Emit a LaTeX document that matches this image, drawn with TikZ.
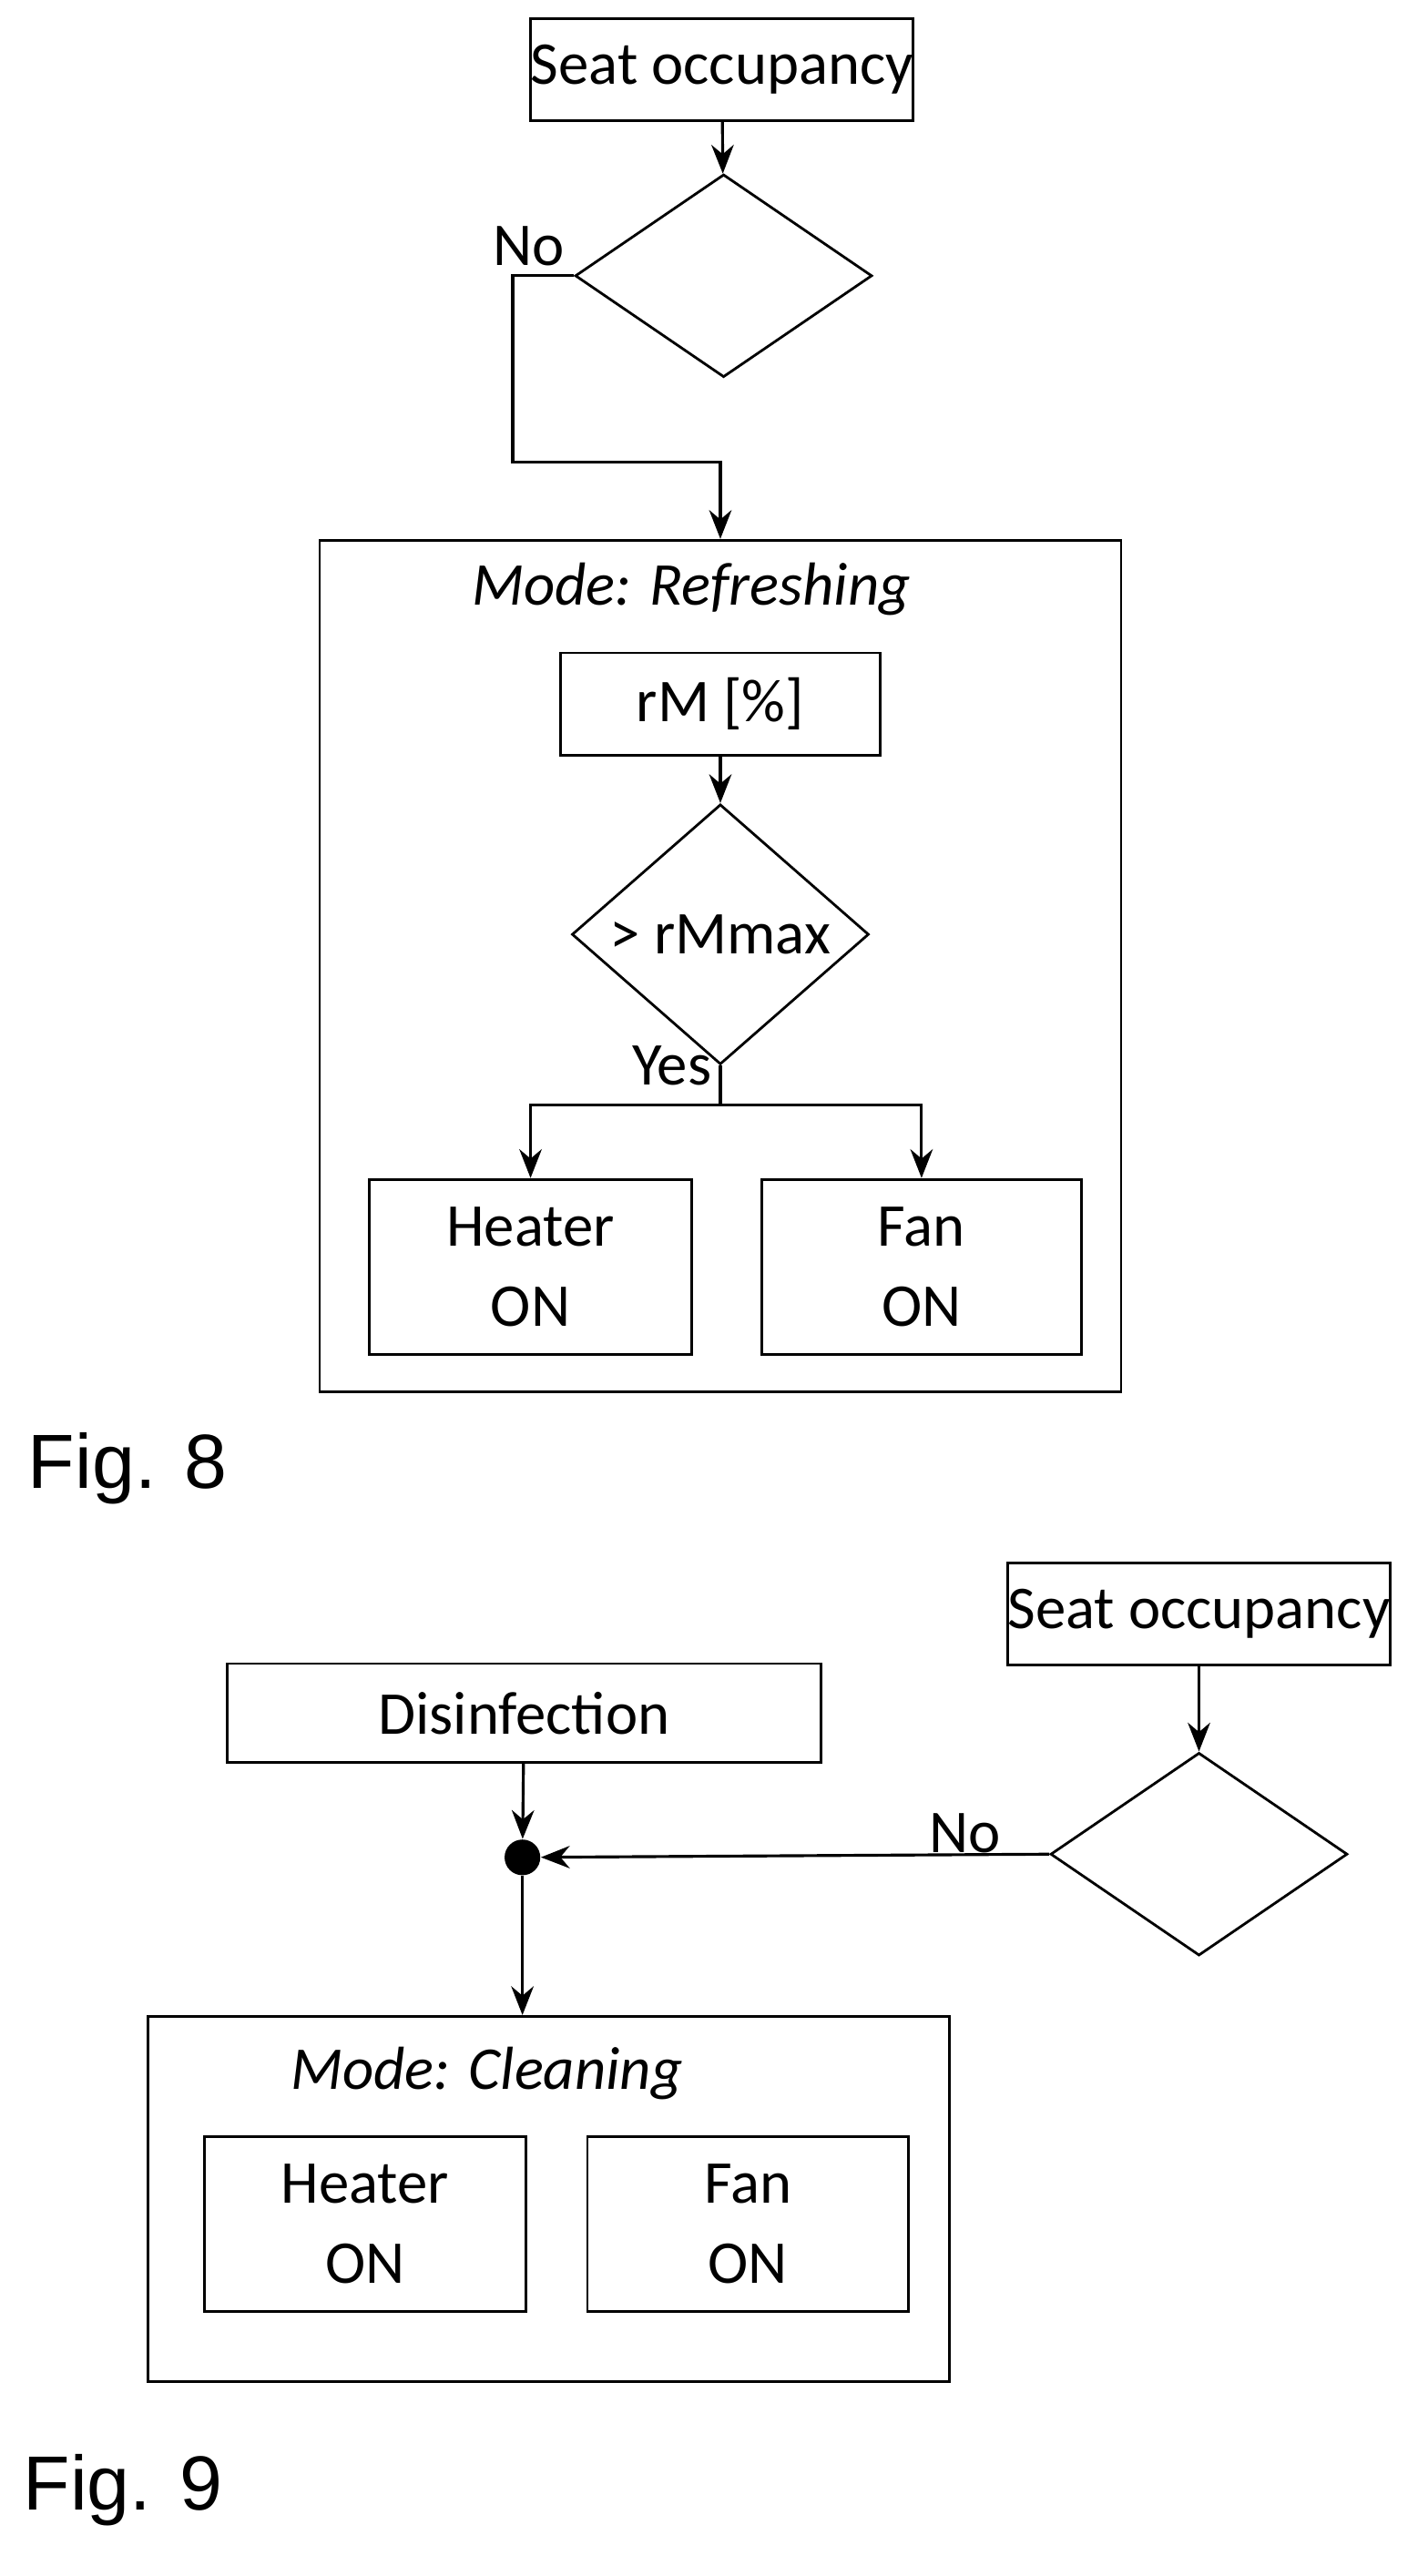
\documentclass[tikz,border=0pt]{standalone}
\usepackage{fontspec}
\setmainfont{Carlito}
\newfontfamily\figfont{Liberation Sans}
\usetikzlibrary
  {
    arrows.meta,      % arrow heads
    shapes.geometric, % diamonds
    positioning,      % place nodes relative to other nodes
  }
\newcommand\px{0.01782cm}

\begin{document}
\begin{tikzpicture}
    [
      x=\px, y=-\px,
      % Styles
      flow/.style={line width=0.9pt, -{Stealth[length=9pt,width=7pt]}},
      box/.style={draw, line width=0.8pt, align=center, inner sep=0pt,
        font=\fontsize{19}{25}\selectfont},
      test/.style={draw, diamond, line width=0.8pt, inner sep=0pt,
        minimum width=183*\px, minimum height=125*\px,
        font=\fontsize{19}{23}\selectfont},
      frame/.style={draw, line width=0.8pt, inner sep=0pt},
      label text/.style={font=\fontsize{19}{23}\selectfont, inner sep=1pt},
      fig text/.style={font=\figfont\fontsize{24}{28}\selectfont, inner sep=0pt}
    ]
    \useasboundingbox (0,0) rectangle (880,1588);

    % Fig. 8
    \node [box, minimum width=233*\px, minimum height=63*\px] (seat) at (445,43) {Seat occupancy};
    \node [test] (occupied) at (446,170) {};
    \node [frame, minimum width=494*\px, minimum height=525*\px] (refresh) at (444,595.5) {};
    \node [label text, font=\fontsize{19}{23}\selectfont\itshape] (refresh title) at (426,363) {Mode: Refreshing};
    \node [box, minimum width=197*\px, minimum height=63*\px] (moisture) at (444,434) {rM [\%]};
    \node [test] (limit) at (444,576) {> rMmax};
    \node [box, minimum width=199*\px, minimum height=108*\px] (heater) at (327,781) {Heater\\ON};
    \node [box, minimum width=197*\px, minimum height=108*\px] (fan) at (568,781) {Fan\\ON};
    \coordinate (split) at (444,681);

    \draw [flow] (seat) -- (occupied);
    \draw [flow] (occupied.west) -- (316,170) -- (316,285) -| (refresh.north);
    \node [label text] (no a) at (326,152) {No};
    \draw [flow] (moisture) -- (limit);
    \draw [line width=0.9pt] (limit.south) -- (split);
    \node [label text] (yes) at (414,657) {Yes};
    \draw [flow] (split) -| (heater.north);
    \draw [flow] (split) -| (fan.north);

    \node [fig text, anchor=west] (fig a) at (17,905) {Fig. 8};

    % Fig. 9
    \node [box, minimum width=234*\px, minimum height=63*\px] (seat b) at (739,995) {Seat occupancy};
    \node [test] (occupied b) at (739,1143) {};
    \node [box, minimum width=366*\px, minimum height=61*\px] (disinfect) at (323,1056) {Disinfection};
    \node [circle, fill=black, minimum size=22*\px, inner sep=0pt] (join) at (322,1145) {};
    \node [frame, minimum width=494*\px, minimum height=225*\px] (clean) at (338,1355.5) {};
    \node [label text, font=\fontsize{19}{23}\selectfont\itshape] (clean title) at (300,1278) {Mode: Cleaning};
    \node [box, minimum width=198*\px, minimum height=108*\px] (heater b) at (225,1371) {Heater\\ON};
    \node [box, minimum width=198*\px, minimum height=108*\px] (fan b) at (461,1371) {Fan\\ON};

    \draw [flow] (seat b) -- (occupied b);
    \draw [flow] (disinfect) -- (join);
    \draw [flow] (occupied b.west) -- (join);
    \node [label text] (no b) at (595,1130) {No};
    \draw [flow] (join) -- (clean.north -| join);

    \node [fig text, anchor=west] (fig b) at (14,1535) {Fig. 9};
\end{tikzpicture}
\end{document}
